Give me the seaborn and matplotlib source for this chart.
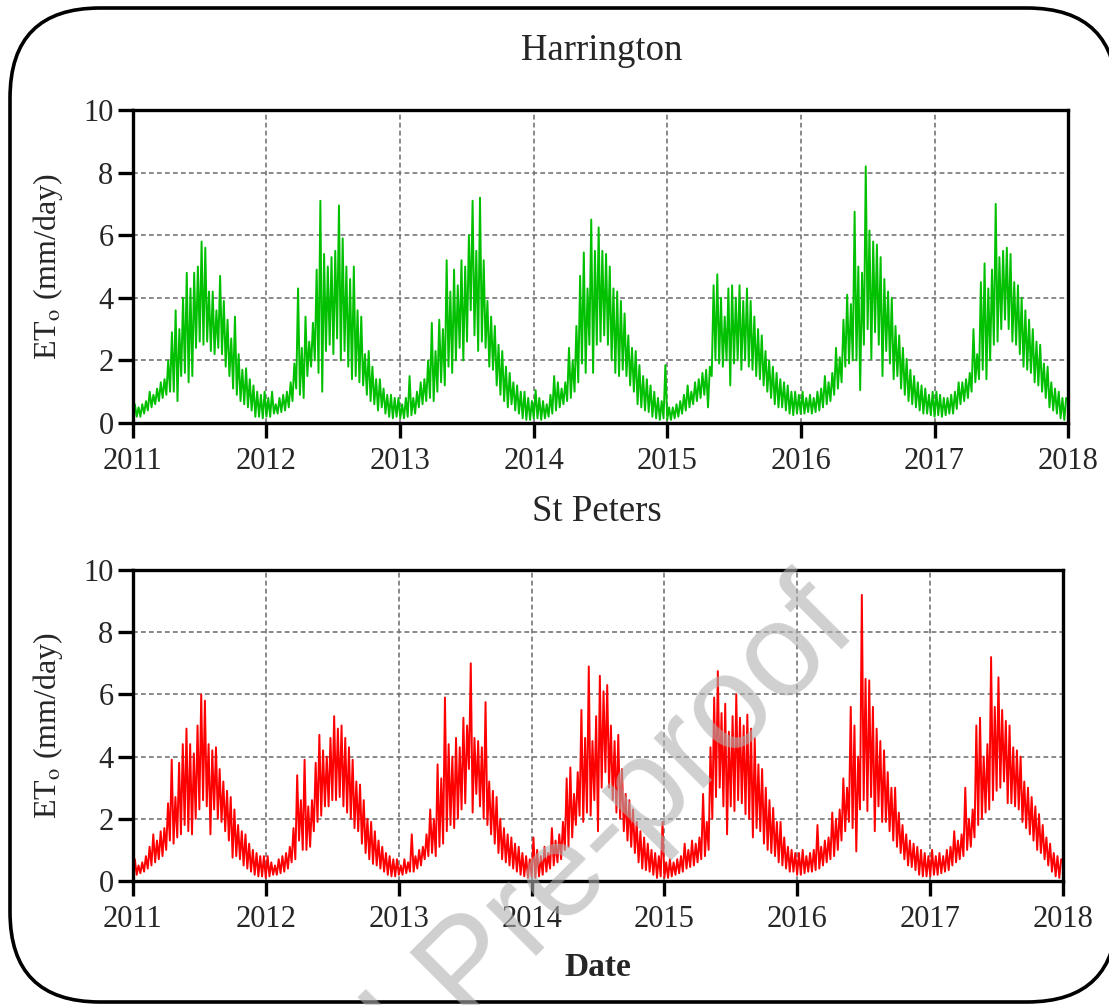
import matplotlib
matplotlib.use("Agg")
import matplotlib.pyplot as plt
import matplotlib.dates as mdates
from matplotlib.patches import FancyBboxPatch
import pandas as pd
import seaborn as sns

# Daily reference evapotranspiration (mm/day), summarised per ~10-day block:
# the upper and lower extent of the daily values in each block, 36 blocks a year.
YEARS = [2011, 2012, 2013, 2014, 2015, 2016, 2017]

harrington_high = [
    [0.6, 0.5, 0.6, 0.7, 1.0, 0.9, 1.1, 1.3, 1.4, 2.0, 2.9, 3.6, 3.0, 4.0, 4.8, 4.3, 4.8, 5.0,
     5.8, 5.6, 4.2, 4.2, 3.6, 4.7, 3.9, 3.3, 2.7, 3.4, 2.2, 1.7, 1.75, 1.4, 1.2, 1.0, 0.9, 1.0],
    [0.8, 1.0, 0.6, 0.8, 0.9, 1.0, 1.3, 1.9, 4.3, 2.4, 3.4, 2.6, 3.2, 4.9, 7.1, 5.4, 5.0, 5.3,
     5.5, 6.95, 5.9, 5.0, 4.6, 5.0, 3.6, 3.4, 2.2, 2.3, 1.8, 1.4, 1.4, 1.1, 0.9, 0.9, 0.8, 0.8],
    [0.6, 0.8, 1.5, 0.8, 1.0, 1.3, 1.4, 2.0, 3.2, 2.3, 3.3, 3.0, 5.2, 4.2, 4.9, 4.4, 5.2, 5.0,
     6.0, 7.1, 5.5, 7.2, 5.2, 3.9, 3.4, 3.1, 2.5, 2.3, 1.8, 1.6, 1.3, 1.2, 1.0, 1.0, 0.8, 0.7],
    [1.05, 0.8, 0.7, 0.6, 0.9, 1.5, 1.3, 1.1, 1.3, 2.4, 2.0, 3.1, 4.7, 5.45, 4.3, 6.5, 5.5, 6.25,
     5.5, 5.4, 5.0, 4.3, 4.2, 3.9, 3.5, 2.8, 2.4, 2.3, 1.85, 1.5, 1.4, 1.2, 1.0, 0.8, 0.7, 1.85],
    [0.5, 0.5, 0.6, 0.7, 0.9, 1.2, 1.0, 1.3, 1.4, 1.6, 1.7, 1.8, 4.4, 4.75, 4.0, 3.4, 4.3, 4.4,
     4.0, 4.4, 3.9, 4.3, 3.9, 3.4, 3.0, 2.8, 2.3, 2.0, 1.8, 1.6, 1.4, 1.3, 1.2, 1.0, 1.0, 0.9],
    [1.0, 0.8, 0.9, 0.8, 1.0, 1.1, 1.5, 1.3, 1.6, 2.4, 2.1, 3.3, 4.1, 3.8, 6.75, 5.0, 4.8, 8.2,
     6.15, 5.8, 5.7, 5.3, 4.6, 4.2, 4.0, 3.1, 2.8, 2.4, 2.05, 1.7, 1.5, 1.3, 1.2, 1.1, 0.9, 1.0],
    [1.0, 0.9, 0.8, 0.8, 0.9, 1.0, 1.3, 1.3, 1.4, 1.6, 3.0, 2.2, 4.5, 5.1, 4.3, 4.9, 7.0, 5.3,
     5.5, 5.6, 5.4, 4.5, 4.4, 4.0, 3.6, 3.3, 3.0, 2.6, 2.5, 1.9, 1.8, 1.3, 1.1, 1.0, 0.8, 0.8],
]

harrington_low = [
    [0.15, 0.2, 0.2, 0.3, 0.4, 0.5, 0.6, 0.7, 0.8, 0.9, 1.0, 1.0, 0.7, 1.5, 1.6, 1.3, 1.5, 2.4,
     2.6, 2.5, 2.6, 2.3, 2.2, 2.4, 2.2, 1.8, 1.5, 1.1, 0.9, 0.7, 0.6, 0.5, 0.4, 0.2, 0.2, 0.15],
    [0.2, 0.2, 0.3, 0.3, 0.35, 0.4, 0.5, 0.7, 1.1, 0.9, 0.8, 1.5, 1.8, 2.0, 1.6, 1.0, 2.3, 2.5,
     2.2, 2.7, 2.0, 2.3, 1.8, 1.4, 1.5, 1.3, 1.2, 0.9, 0.7, 0.6, 0.4, 0.5, 0.3, 0.2, 0.15, 0.2],
    [0.15, 0.15, 0.2, 0.25, 0.3, 0.5, 0.6, 0.7, 0.8, 0.7, 1.0, 1.3, 1.2, 1.8, 1.6, 2.0, 2.4, 2.0,
     2.6, 3.6, 2.8, 2.3, 2.6, 2.4, 1.8, 1.7, 1.2, 0.9, 0.7, 0.5, 0.6, 0.4, 0.3, 0.15, 0.1, 0.1],
    [0.15, 0.15, 0.1, 0.15, 0.2, 0.3, 0.4, 0.5, 0.6, 0.7, 0.8, 1.0, 1.3, 1.9, 1.6, 2.5, 1.6, 2.5,
     2.6, 2.8, 2.5, 2.0, 1.6, 1.5, 1.7, 1.5, 1.2, 1.0, 0.6, 0.5, 0.4, 0.35, 0.2, 0.15, 0.1, 0.15],
    [0.1, 0.1, 0.15, 0.2, 0.3, 0.4, 0.5, 0.6, 0.7, 0.8, 0.9, 0.5, 1.5, 2.0, 1.9, 1.8, 2.0, 1.2,
     1.9, 2.0, 1.7, 2.0, 1.8, 1.7, 1.5, 1.4, 1.2, 1.0, 0.8, 0.6, 0.5, 0.5, 0.4, 0.3, 0.25, 0.3],
    [0.3, 0.3, 0.35, 0.3, 0.35, 0.4, 0.5, 0.6, 0.7, 0.9, 1.1, 1.3, 1.8, 1.9, 2.0, 2.0, 1.05, 2.5,
     3.0, 2.05, 2.9, 2.5, 1.5, 2.3, 1.9, 1.4, 1.5, 1.1, 0.9, 0.7, 0.6, 0.5, 0.4, 0.3, 0.3, 0.25],
    [0.2, 0.25, 0.2, 0.25, 0.3, 0.3, 0.45, 0.6, 0.7, 0.8, 1.0, 1.3, 1.4, 1.7, 1.4, 2.0, 2.5, 2.6,
     3.0, 3.3, 3.0, 2.6, 2.5, 2.2, 1.8, 1.7, 1.6, 1.3, 1.2, 1.0, 0.8, 0.5, 0.4, 0.3, 0.15, 0.1],
]

st_peters_high = [
    [0.7, 0.5, 0.6, 0.8, 1.1, 1.5, 1.3, 1.6, 1.7, 2.5, 3.9, 2.7, 3.8, 4.4, 4.9, 4.4, 4.1, 5.0,
     6.0, 5.8, 4.4, 4.2, 4.3, 3.6, 3.2, 2.9, 2.7, 2.3, 1.8, 1.6, 1.5, 1.2, 1.0, 0.9, 0.8, 0.8],
    [0.8, 0.6, 0.5, 0.7, 0.8, 0.9, 1.1, 1.7, 3.4, 2.6, 3.9, 2.4, 2.6, 3.8, 4.7, 4.2, 4.0, 4.6,
     5.3, 4.9, 5.0, 4.6, 4.3, 3.9, 3.2, 3.1, 2.6, 2.0, 1.9, 1.6, 1.3, 1.1, 0.9, 0.8, 0.7, 0.7],
    [0.5, 0.7, 0.6, 1.5, 0.8, 1.0, 1.1, 1.5, 2.3, 2.0, 3.75, 3.3, 5.9, 4.4, 4.0, 4.6, 4.3, 5.25,
     5.0, 7.0, 4.6, 4.5, 4.3, 5.75, 3.2, 2.9, 2.7, 2.0, 1.7, 1.5, 1.4, 1.2, 1.1, 0.9, 0.8, 0.7],
    [1.4, 1.0, 0.8, 1.1, 0.9, 1.7, 1.3, 1.5, 1.9, 3.3, 3.65, 2.8, 3.5, 5.5, 4.6, 6.9, 4.5, 5.3,
     6.6, 6.1, 6.3, 5.0, 4.5, 4.7, 3.6, 2.8, 2.6, 2.3, 1.9, 1.6, 1.4, 1.2, 1.0, 0.9, 0.8, 1.9],
    [0.6, 0.7, 0.6, 0.7, 0.8, 1.2, 1.0, 1.3, 1.2, 1.4, 2.8, 1.9, 4.3, 5.9, 6.75, 5.4, 5.7, 4.8,
     5.3, 6.0, 5.25, 5.0, 5.35, 4.9, 4.6, 3.75, 3.6, 3.0, 2.6, 2.35, 1.9, 1.9, 1.4, 1.1, 1.0, 0.9],
    [0.9, 1.0, 0.8, 0.9, 1.0, 1.8, 1.1, 1.3, 1.4, 2.2, 2.0, 2.3, 3.3, 3.0, 5.6, 5.0, 4.0, 9.2,
     6.5, 6.45, 5.6, 4.9, 4.5, 4.2, 3.5, 3.0, 3.0, 2.2, 1.8, 1.5, 1.3, 1.2, 1.1, 1.0, 0.9, 0.8],
    [1.0, 0.8, 0.9, 0.8, 1.0, 1.1, 1.6, 1.3, 1.5, 3.0, 2.0, 2.3, 5.0, 5.25, 4.0, 4.4, 7.2, 5.6,
     6.55, 5.5, 5.15, 5.0, 4.3, 4.2, 4.0, 3.2, 3.0, 2.7, 2.4, 2.15, 1.8, 1.4, 1.2, 0.9, 0.8, 0.7],
]

st_peters_low = [
    [0.15, 0.2, 0.25, 0.3, 0.4, 0.5, 0.6, 0.7, 0.8, 1.0, 1.3, 1.2, 1.4, 1.5, 1.8, 1.6, 1.5, 2.0,
     2.3, 2.6, 2.4, 1.5, 2.3, 2.0, 1.9, 1.6, 1.3, 0.75, 0.8, 0.7, 0.5, 0.4, 0.3, 0.2, 0.15, 0.15],
    [0.1, 0.15, 0.2, 0.2, 0.25, 0.3, 0.4, 0.6, 0.7, 1.3, 1.0, 1.0, 1.1, 1.6, 1.9, 2.1, 2.4, 2.4,
     2.6, 2.6, 2.7, 2.4, 2.2, 2.0, 1.7, 1.6, 1.2, 0.9, 0.7, 0.55, 0.5, 0.4, 0.3, 0.2, 0.15, 0.15],
    [0.2, 0.2, 0.25, 0.3, 0.3, 0.4, 0.5, 0.7, 0.8, 0.9, 0.8, 1.1, 1.2, 1.6, 1.8, 1.7, 2.0, 2.3,
     2.5, 3.6, 2.2, 2.8, 2.4, 2.0, 1.8, 1.5, 1.2, 0.9, 0.7, 0.6, 0.5, 0.4, 0.3, 0.2, 0.15, 0.1],
    [0.15, 0.1, 0.15, 0.2, 0.3, 0.4, 0.5, 0.6, 0.7, 1.0, 1.1, 1.4, 1.8, 2.1, 1.9, 2.2, 2.1, 2.6,
     1.6, 3.0, 3.5, 3.0, 2.6, 2.2, 2.0, 1.6, 1.3, 1.1, 0.9, 0.6, 0.4, 0.35, 0.3, 0.2, 0.1, 0.15],
    [0.1, 0.1, 0.15, 0.2, 0.25, 0.3, 0.4, 0.45, 0.5, 0.6, 0.7, 0.8, 1.0, 2.0, 2.7, 3.0, 2.4, 1.5,
     2.4, 2.25, 2.6, 2.5, 2.15, 2.0, 1.4, 1.7, 1.6, 1.2, 1.0, 0.9, 0.8, 0.6, 0.5, 0.4, 0.3, 0.3],
    [0.2, 0.2, 0.25, 0.3, 0.3, 0.35, 0.4, 0.5, 0.6, 0.7, 0.8, 1.0, 1.3, 1.6, 1.9, 1.7, 0.95, 2.3,
     2.6, 2.25, 2.7, 1.6, 2.4, 1.9, 1.9, 1.6, 1.3, 1.1, 0.9, 0.7, 0.5, 0.45, 0.35, 0.2, 0.15, 0.15],
    [0.15, 0.2, 0.2, 0.25, 0.3, 0.35, 0.5, 0.6, 0.7, 0.8, 1.0, 1.1, 1.4, 1.8, 2.0, 2.2, 2.3, 2.6,
     2.9, 3.0, 3.2, 2.5, 2.5, 2.4, 2.3, 1.9, 1.7, 1.5, 1.3, 1.0, 0.9, 0.7, 0.5, 0.3, 0.15, 0.1],
]


def build_series(highs, lows):
    """Lay the block extremes out along the calendar, alternating low/high."""
    dates, values = [], []
    for year, hi_row, lo_row in zip(YEARS, highs, lows):
        start = pd.Timestamp(year=year, month=1, day=1)
        ndays = (pd.Timestamp(year=year + 1, month=1, day=1) - start).days
        step = ndays / (2 * len(hi_row))
        for k, (hi, lo) in enumerate(zip(hi_row, lo_row)):
            dates.append(start + pd.Timedelta(days=2 * k * step))
            values.append(lo)
            dates.append(start + pd.Timedelta(days=(2 * k + 1) * step))
            values.append(hi)
    return pd.DataFrame({"date": dates, "eto": values})


sns.set_style("ticks")
plt.rcParams["font.family"] = ["Liberation Serif", "DejaVu Serif"]
plt.rcParams["mathtext.fontset"] = "stix"

W, H = 1109, 1005
fig = plt.figure(figsize=(W / 100, H / 100), dpi=100)

panels = [
    ("Harrington", build_series(harrington_high, harrington_low), "#00c000",
     [133 / W, 1 - 423 / H, 935 / W, 313 / H], (602, 51)),
    ("St Peters", build_series(st_peters_high, st_peters_low), "#ff0000",
     [133 / W, 1 - 881 / H, 930 / W, 311 / H], (597, 512)),
]

for name, df, color, rect, (tx, ty) in panels:
    ax = fig.add_axes(rect)
    sns.lineplot(data=df, x="date", y="eto", ax=ax, color=color,
                 linewidth=1.4, estimator=None)
    ax.set_xlim(pd.Timestamp("2011-01-01"), pd.Timestamp("2018-01-01"))
    ax.set_ylim(0, 10)
    ax.set_yticks(range(0, 11, 2))
    ax.xaxis.set_major_locator(mdates.YearLocator())
    ax.xaxis.set_major_formatter(mdates.DateFormatter("%Y"))
    ax.grid(True, color="#707070", linestyle=(0, (3, 2)), linewidth=1.15)
    ax.set_xlabel("")
    ax.set_ylabel("")
    for spine in ax.spines.values():
        spine.set_visible(True)
        spine.set_linewidth(2.4)
        spine.set_color("black")
    ax.tick_params(axis="both", labelsize=22, length=11, width=2.4,
                   direction="out", color="black")
    ax.tick_params(axis="y", pad=3)
    ax.tick_params(axis="x", pad=6)

    fig.text(tx / W, 1 - ty / H, name, ha="center", va="center", fontsize=26.5)
    fig.text(48 / W, rect[1] + rect[3] / 2, r"ET$_{\mathrm{o}}$ (mm/day)",
             rotation=90, ha="center", va="center", fontsize=23)

fig.text(598 / W, 1 - 967 / H, "Date", ha="center", va="center",
         fontsize=24, fontweight="bold")

# Rounded outer frame; filled white behind the axes so the curved corners
# are drawn without path clipping at the canvas edge.
frame = FancyBboxPatch((0.10, 0.03), 11.07, 9.94,
                       boxstyle="round,pad=0,rounding_size=0.9",
                       transform=fig.dpi_scale_trans, facecolor="white",
                       linewidth=2.6, edgecolor="black", zorder=-1)
fig.add_artist(frame)

# Diagonal watermark
fig.text(132 / W, 1 - 1360 / H, "Journal Pre-proof", rotation=45,
         rotation_mode="anchor", ha="left", va="baseline", fontsize=96,
         family="Liberation Sans", color="#b0b0b0", alpha=0.6, zorder=10)

fig.savefig("out.png", dpi=100)
